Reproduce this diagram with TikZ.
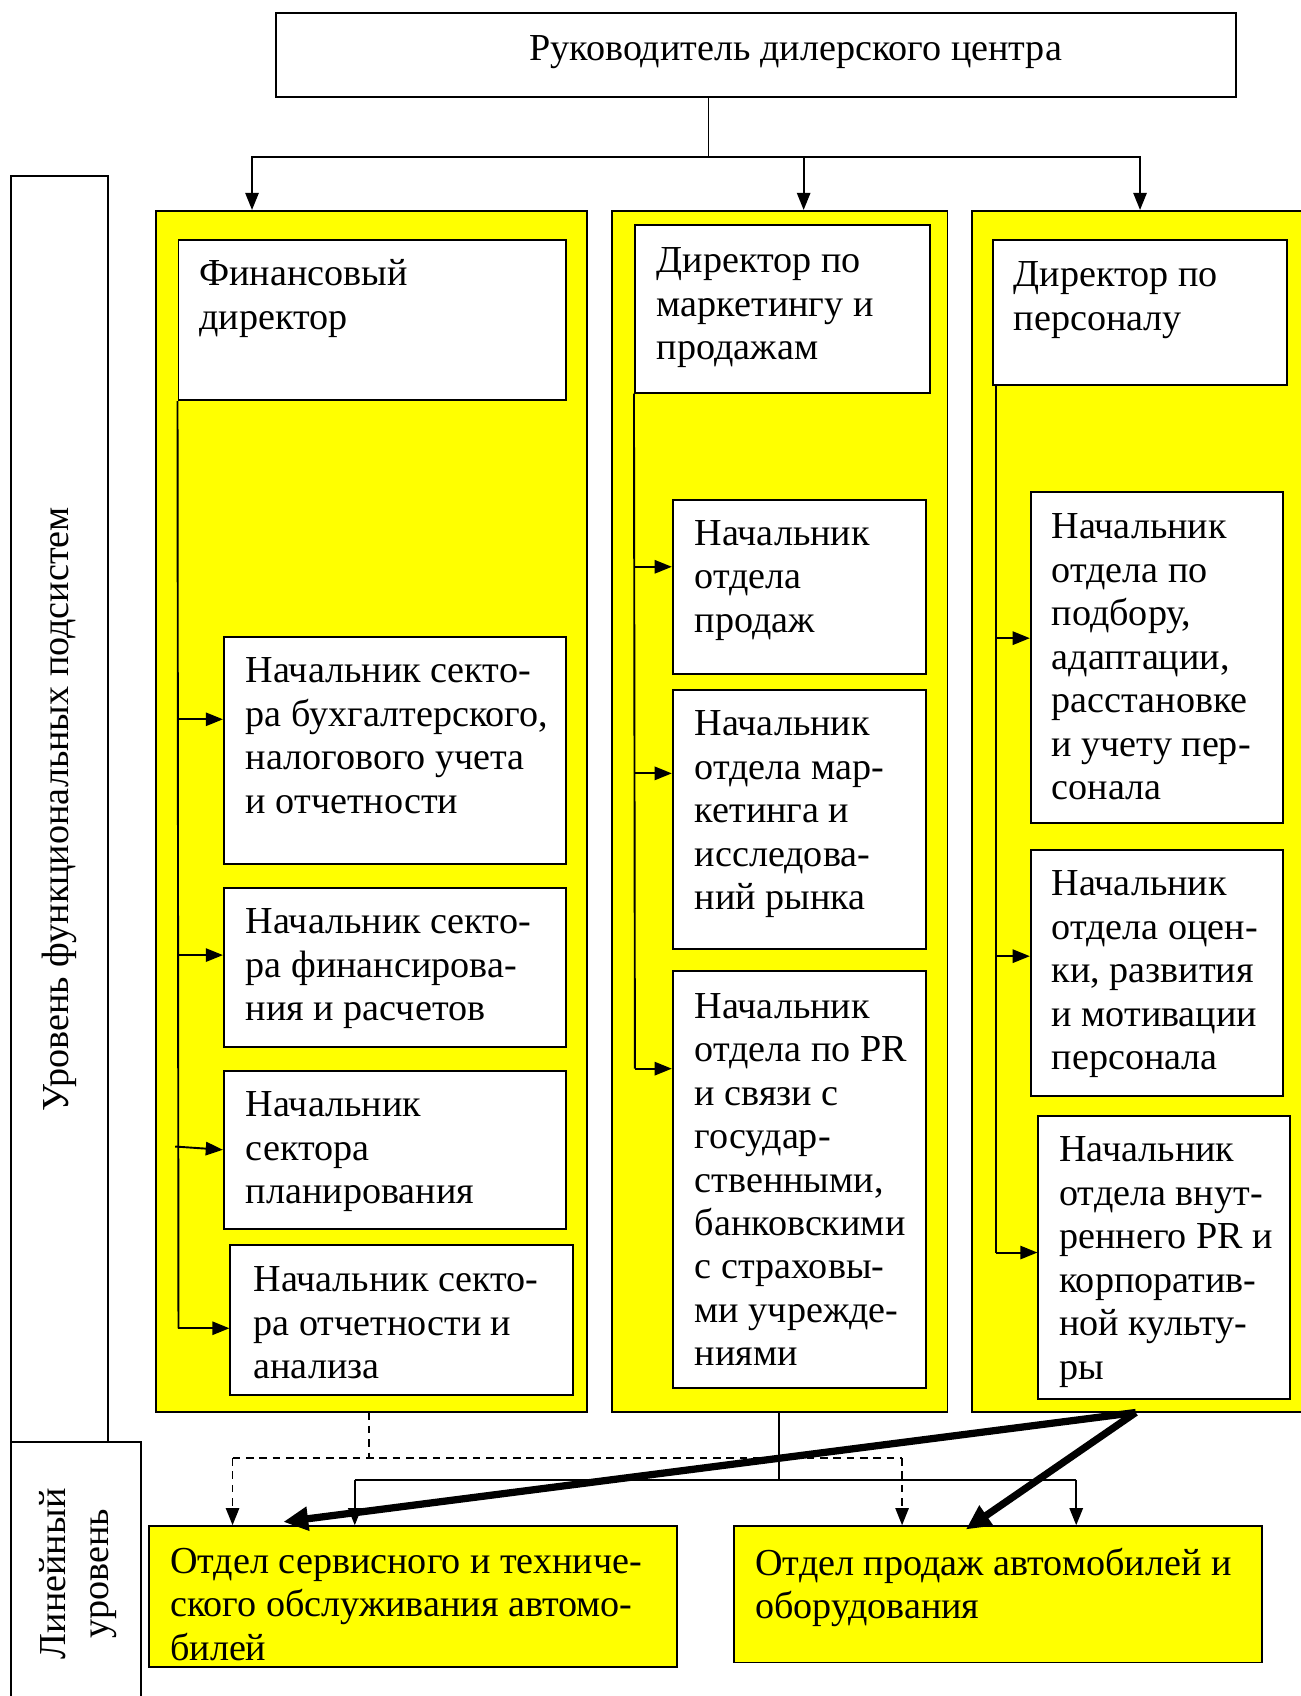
\documentclass[tikz,border=0pt]{standalone}
\usepackage{fontspec}
\setmainfont{Liberation Serif}
\usetikzlibrary{arrows.meta,fit,calc}
\definecolor{yel}{RGB}{255,255,0}
\tikzset{
  boxst/.style={draw=black, line width=1pt, inner sep=0pt},
  txt/.style={anchor=north west, align=left, inner sep=0pt, font=\fontsize{20}{22.8}\selectfont, execute at begin node={\rule{0pt}{16pt}}},
  conn/.style={line width=1pt},
  arr/.style={line width=1pt, -{Triangle[length=9pt,width=7pt]}},
  darr/.style={line width=0.8pt, dashed, dash pattern=on 4pt off 3pt, -{Triangle[length=9pt,width=7pt]}},
  thickarr/.style={line width=3.8pt, -{Triangle[length=13pt,width=12pt]}}
}
\newcommand{\mybox}[6]{\node[boxst, fill=#6, fit={(#2,#3) (#4,#5)}] (#1) {};}
% text placed by first baseline: \mytxt{name}{x}{baseline y}{text}
\newcommand{\mytxt}[4]{\node[txt] (#1) at (#2,#3-23.2) {#4};}
\begin{document}
\begin{tikzpicture}[x={(0.5672pt,0)}, y={(0,-0.5672pt)}]
\useasboundingbox (0,0) rectangle (1202,1568);
% left labels
\mybox{labA}{10}{163}{100}{1333}{white}
\node[rotate=90, font=\fontsize{20}{22.8}\selectfont, inner sep=0pt] (labAt) at (labA.center) {Уровень функциональных подсистем};
\draw[line width=1pt] (10,1575) -- (10,1333) -- (130,1333) -- (130,1575);
\node[rotate=90, align=center, font=\fontsize{20}{22.8}\selectfont, inner sep=0pt] (labBt) at (72,1455) {Линейный\\уровень};
% top
\mybox{top}{255}{12}{1143}{90}{white}
\mytxt{topt}{489}{51}{Руководитель дилерского центра}
% columns
\mybox{col1}{144}{195}{543}{1305}{yel}
\mybox{col2}{566}{195}{876}{1305}{yel}
\mybox{col3}{899}{195}{1215}{1305}{yel}
% directors
\mybox{fd}{165}{222}{523}{370}{white}
\mytxt{fdt}{184}{263}{Финансовый\\директор}
\mybox{md}{587}{208}{860}{363}{white}
\mytxt{mdt}{607}{252}{Директор по\\маркетингу и\\продажам}
\mybox{pd}{918}{222}{1190}{356}{white}
\mytxt{pdt}{937}{265}{Директор по\\персоналу}
% column 1 subs
\mybox{s11}{207}{589}{523}{799}{white}
\mytxt{s11t}{227}{631}{Начальник секто-\\ра бухгалтерского,\\налогового учета\\и отчетности}
\mybox{s12}{207}{821}{523}{968}{white}
\mytxt{s12t}{227}{863}{Начальник секто-\\ра финансирова-\\ния и расчетов}
\mybox{s13}{207}{990}{523}{1136}{white}
\mytxt{s13t}{227}{1032}{Начальник\\сектора\\планирования}
\mybox{s14}{213}{1151}{530}{1290}{white}
\mytxt{s14t}{234}{1194}{Начальник секто-\\ра отчетности и\\анализа}
% column 2 subs
\mybox{s21}{622}{462}{856}{623}{white}
\mytxt{s21t}{642}{504}{Начальник\\отдела\\продаж}
\mybox{s22}{622}{638}{856}{877}{white}
\mytxt{s22t}{642}{680}{Начальник\\отдела мар-\\кетинга и\\исследова-\\ний рынка}
\mybox{s23}{622}{898}{856}{1283}{white}
\mytxt{s23t}{642}{941}{Начальник\\отдела по PR\\и связи с\\государ-\\ственными,\\банковскими\\с страховы-\\ми учрежде-\\ниями}
% column 3 subs
\mybox{s31}{953}{455}{1186}{761}{white}
\mytxt{s31t}{972}{498}{Начальник\\отдела по\\подбору,\\адаптации,\\расстановке\\и учету пер-\\сонала}
\mybox{s32}{953}{786}{1186}{1013}{white}
\mytxt{s32t}{972}{828}{Начальник\\отдела оцен-\\ки, развития\\и мотивации\\персонала}
\mybox{s33}{960}{1032}{1193}{1293}{white}
\mytxt{s33t}{979}{1074}{Начальник\\отдела внут-\\реннего PR и\\корпоратив-\\ной культу-\\ры}
% bottom boxes
\mybox{b1}{138}{1411}{626}{1541}{yel}
\mytxt{b1t}{157}{1454}{Отдел сервисного и техниче-\\ского обслуживания автомо-\\билей}
\mybox{b2}{679}{1411}{1167}{1537}{yel}
\mytxt{b2t}{698}{1454}{Отдел продаж автомобилей и\\оборудования}
% top connectors
\coordinate (j0) at (655,145);
\draw[conn] (top.south -| j0) -- (j0);
\draw[arr] (j0) -| (col1.north -| 233,0);
\draw[arr] (j0) -| (col2.north -| 743,0);
\draw[arr] (j0) -| (col3.north -| 1054,0);
% column 1 internal
\draw[conn] (fd.south west) -- (165,1228);
\draw[arr] (165,665) -- (s11.west |- 165,665);
\draw[arr] (165,883) -- (s12.west |- 165,883);
\draw[arr] (162,1060) -- (s13.west |- 165,1063);
\draw[arr] (165,1228) -- (s14.west |- 165,1228);
% column 2 internal
\draw[conn] (md.south west) -- (587,988);
\draw[arr] (587,524) -- (s21.west |- 587,524);
\draw[arr] (587,715) -- (s22.west |- 587,715);
\draw[arr] (587,988) -- (s23.west |- 587,988);
% column 3 internal
\draw[conn] (pd.south west -| 921,0) -- (921,1158);
\draw[arr] (921,590) -- (s31.west |- 921,590);
\draw[arr] (921,884) -- (s32.west |- 921,884);
\draw[arr] (921,1158) -- (s33.west |- 921,1158);
% bottom dashed
\draw[dashed, dash pattern=on 4pt off 3pt, line width=0.8pt] (col1.south -| 341,0) -- (341,1348);
\draw[dashed, dash pattern=on 4pt off 3pt, line width=0.8pt] (215,1348) -- (834,1348);
\draw[darr] (215,1348) -- (b1.north -| 215,0);
\draw[darr] (834,1348) -- (b2.north -| 834,0);
% bottom solid
\draw[conn] (col2.south -| 720,0) -- (720,1368);
\draw[conn] (328,1368) -- (995,1368);
\draw[arr] (328,1368) -- (b1.north -| 328,0);
\draw[arr] (995,1368) -- (b2.north -| 995,0);
% thick arrows
\coordinate (tk) at (col3.south -| 1050,0);
\draw[thickarr] (tk) -- (262,1407);
\draw[thickarr] (tk) -- (893,1414);
\end{tikzpicture}
\end{document}
